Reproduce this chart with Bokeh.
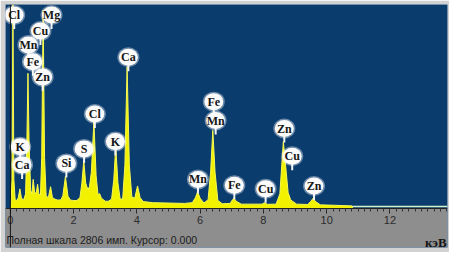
from bokeh.plotting import figure
from bokeh.models import Range1d, Span, SingleIntervalTicker, ColumnDataSource
from bokeh.core.properties import value
from bokeh.embed import file_html
from bokeh.resources import INLINE

# ---- data ----
energy_kev = [0.00, 0.02, 0.05, 0.08, 0.11, 0.15, 0.20, 0.25, 0.30, 0.35, 0.42, 0.48, 0.52, 0.555,
              0.59, 0.64, 0.68, 0.72, 0.77, 0.82, 0.86, 0.90, 0.95, 0.99, 1.035, 1.08, 1.13, 1.20,
              1.27, 1.33, 1.40, 1.50, 1.60, 1.66, 1.74, 1.82, 1.90, 2.00, 2.10, 2.20, 2.26, 2.32,
              2.38, 2.45, 2.50, 2.56, 2.64, 2.71, 2.77, 2.82, 2.88, 3.00, 3.10, 3.20, 3.27, 3.33,
              3.40, 3.47, 3.55, 3.62, 3.69, 3.76, 3.84, 3.93, 4.02, 4.10, 4.20, 4.50, 5.00, 5.50,
              5.75, 5.85, 5.92, 6.00, 6.12, 6.25, 6.33, 6.40, 6.47, 6.56, 6.70, 6.95, 7.02, 7.07,
              7.14, 7.30, 7.60, 7.95, 8.04, 8.12, 8.40, 8.52, 8.58, 8.63, 8.70, 8.78, 8.86, 8.92,
              9.05, 9.40, 9.50, 9.57, 9.65, 9.80, 10.2, 10.5, 10.8, 10.82]
counts = [0, 60, 400, 2806, 400, 120, 110, 150, 270, 140, 120, 200, 900, 1860,
          900, 250, 200, 400, 210, 220, 335, 200, 180, 700, 2730, 700, 170, 150,
          300, 150, 130, 115, 120, 180, 440, 170, 115, 110, 110, 150, 350, 660,
          350, 260, 300, 500, 1200, 450, 190, 205, 140, 100, 100, 130, 400, 855,
          350, 130, 130, 600, 1950, 600, 160, 140, 310, 150, 95, 80, 75, 70,
          80, 150, 230, 140, 75, 120, 500, 1075, 500, 110, 65, 70, 120, 140,
          100, 60, 60, 60, 80, 58, 60, 200, 600, 920, 600, 220, 120, 100,
          60, 55, 100, 140, 95, 50, 45, 40, 35, 0]

label_elements = ["Cl", "Mg", "Cu", "Mn", "Fe", "Zn", "Ca", "K", "Ca", "Si", "S", "Cl", "K",
                  "Fe", "Mn", "Mn", "Fe", "Cu", "Zn", "Cu", "Zn"]
label_kev = [0.12, 1.30, 0.95, 0.57, 0.71, 1.02, 3.73, 0.31, 0.37, 1.77, 2.33, 2.67, 3.32,
             6.43, 6.49, 5.93, 7.08, 8.07, 8.66, 8.91, 9.60]
label_counts = [2660, 2660, 2440, 2250, 2020, 1810, 2080, 850, 600, 620, 820, 1300, 920,
                1470, 1210, 400, 320, 270, 1100, 720, 310]

axis_ticks = [0, 2, 4, 6, 8, 10, 12]
full_scale = 2806
cursor_kev = 0.0
status_text = "Полная шкала 2806 имп. Курсор: 0.000"
unit_text = "кэВ"

# ---- layout ----
W, H = 449, 252
top_b, bot_b = 4, 5
plot_px, band_px = 204, 39          # spectrum area and grey status band (screen px)
cpp = full_scale / plot_px          # counts per screen pixel
band = band_px * cpp
x0, x1 = -0.155, 13.82

p = figure(width=W, height=H, x_range=Range1d(x0, x1), y_range=Range1d(-band, full_scale),
           output_backend="svg", toolbar_location=None, y_axis_location=None,
           min_border_left=5, min_border_right=2, min_border_top=top_b, min_border_bottom=bot_b)
p.background_fill_color = "#0b3c6e"
p.border_fill_color = "#d2d2d2"
p.outline_line_color = None
p.xgrid.visible = False
p.ygrid.visible = False

# grey status band under the spectrum
p.quad(left=[x0], right=[x1], bottom=[-band], top=[0], fill_color="#8e8e8e", line_color=None)

ax = p.xaxis[0]
ax.fixed_location = 0
ax.ticker = SingleIntervalTicker(interval=2, num_minor_ticks=10)
ax.major_tick_out = 5
ax.major_tick_in = 0
ax.minor_tick_out = 3
ax.minor_tick_in = 0
ax.major_tick_line_color = "#222222"
ax.minor_tick_line_color = "#333333"
ax.axis_line_color = "#222222"
ax.major_label_standoff = 2
ax.major_label_text_font = "Liberation Sans"
ax.major_label_text_font_size = "11px"
ax.major_label_text_color = "#2b2b2b"

# baseline green line and spectrum
p.line(x=[0, x1], y=[cpp * 2, cpp * 2], line_color="#d6f2c4", line_width=1.5)
p.varea(x=energy_kev, y1=[0] * len(counts), y2=counts, fill_color="#f2f200")
p.line(x=energy_kev, y=counts, line_color="#f8f850", line_width=1)

p.add_layout(Span(location=cursor_kev, dimension="height", line_color="#141414", line_width=1))

# element labels
src = ColumnDataSource(dict(x=label_kev, y=label_counts, name=label_elements,
                            y_pin=[c - 14 * cpp for c in label_counts]))
p.segment(x0="x", y0="y", x1="x", y1="y_pin", source=src, line_color="#f4f4f4", line_width=2)
p.ellipse(x="x", y="y", width=22, height=20, width_units="screen", height_units="screen",
          source=src, fill_color="white", fill_alpha=0.4, line_color=None)
p.ellipse(x="x", y="y", width=19, height=17, width_units="screen", height_units="screen",
          source=src, fill_color="#fbfbfb", fill_alpha=1.0, line_color=None)
p.text(x="x", y="y", text="name", source=src, text_font=value("Liberation Serif"),
       text_font_size="12px", text_font_style="bold", text_color="#161616",
       text_align="center", text_baseline="middle")

# status line texts inside the grey band
p.text(x=[x0 + 0.03], y=[-31 * cpp], text=[status_text], text_font=value("Liberation Sans"),
       text_font_size="10.5px", text_color="#1c1c1c", text_align="left", text_baseline="middle")
p.text(x=[x1 - 0.03], y=[-34 * cpp], text=[unit_text], text_font=value("Liberation Serif"),
       text_font_style="bold", text_font_size="13px", text_color="#151515",
       text_align="right", text_baseline="middle")

open("out.html", "w").write(file_html(p, INLINE))
